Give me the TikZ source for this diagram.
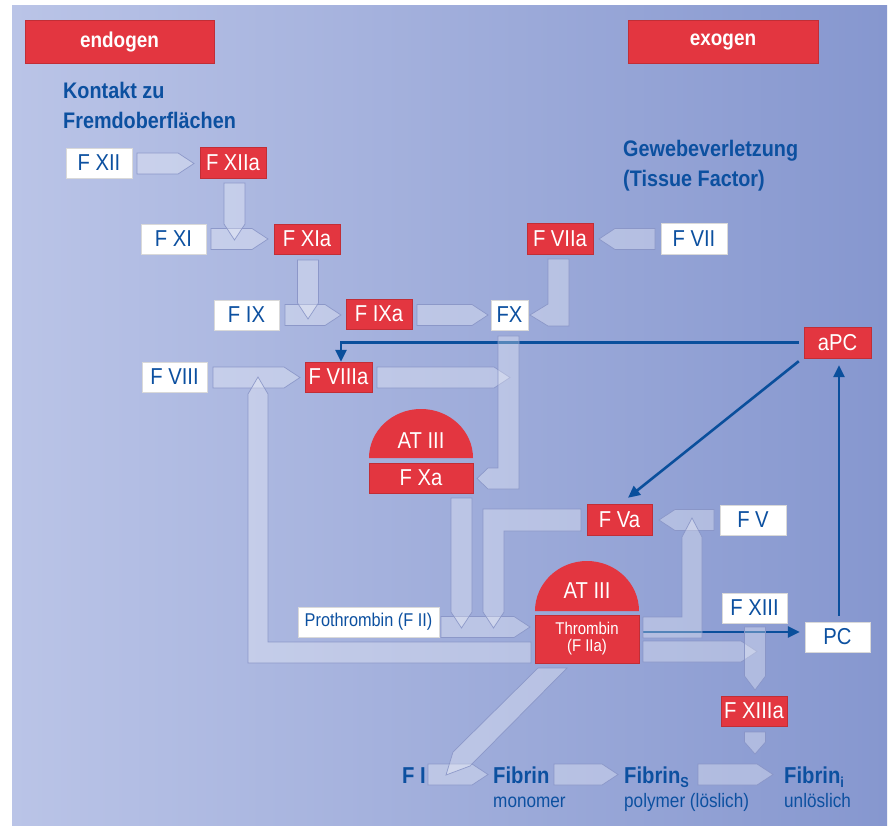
\documentclass[tikz,border=0pt]{standalone}
\usepackage{fontspec}
\setmainfont{Liberation Sans}[FakeStretch=0.88]
\usetikzlibrary{arrows.meta}
\definecolor{rd}{RGB}{227,54,64}
\definecolor{tb}{RGB}{12,80,160}
\definecolor{ln}{RGB}{10,79,156}
\definecolor{bgL}{RGB}{186,196,231}
\definecolor{bgR}{RGB}{134,151,207}
\definecolor{edge}{RGB}{136,148,198}
\newcommand\setfs[1]{\fontsize{#1}{#1}\selectfont}
\newcommand\harr[3]{\path[fat] (#1,{#3-10.5}) -- ({#2-16},{#3-10.5}) -- (#2,#3) -- ({#2-16},{#3+10.5}) -- (#1,{#3+10.5}) -- cycle;}
\newcommand\larr[3]{\path[fat] (#1,{#3-10.5}) -- ({#2+16},{#3-10.5}) -- (#2,#3) -- ({#2+16},{#3+10.5}) -- (#1,{#3+10.5}) -- cycle;}
\newcommand\darr[4]{\path[fat] ({#1-10.5},#2) -- ({#1+10.5},#2) -- ({#1+10.5},{#3-#4}) -- (#1,#3) -- ({#1-10.5},{#3-#4}) -- cycle;}
\tikzset{
  fat/.style={fill=white, fill opacity=0.3, draw=edge, draw opacity=0.9, line width=0.7pt},
  wbox/.style={fill=white, draw=black!15, line width=0.4pt, text=tb, inner sep=0pt, font=\setfs{23}},
  rbox/.style={fill=rd, draw=rd!85!black, line width=0.4pt, text=white, inner sep=0pt, font=\setfs{23}},
  bl/.style={draw=ln, line width=2.6pt, -{Triangle[length=12pt,width=11pt]}},
  head/.style={text=tb, font=\bfseries\setfs{22.5}, inner sep=0pt, anchor=base west},
  fib/.style={text=tb, font=\bfseries\setfs{23}, inner sep=0pt, anchor=base west},
  sub/.style={text=tb, font=\setfs{19.5}, inner sep=0pt, anchor=base west},
}
\begin{document}
\begin{tikzpicture}[x=1pt,y=-1pt]
\useasboundingbox (0,0) rectangle (889,826);
\fill[white] (0,0) rectangle (889,826);
\shade[left color=bgL, right color=bgR] (12,6) rectangle (887,826);

% nodes
\node[rbox, minimum width=189pt, minimum height=43pt, font=\bfseries\setfs{21.5}] (endo) at (119.5,41.5) {endogen};
\node[rbox, minimum width=190pt, minimum height=43pt, font=\bfseries\setfs{21.5}] (exo) at (723,41.5) {exogen};
\node[head] (k1) at (63,99) {Kontakt zu};
\node[head] (k2) at (63,129) {Fremdoberflächen};
\node[head] (g1) at (623,157) {Gewebeverletzung};
\node[head] (g2) at (623,187) {(Tissue Factor)};

\node[wbox, minimum width=66pt, minimum height=30pt] (FXII) at (99,163) {F XII};
\node[rbox, minimum width=66pt, minimum height=31pt] (FXIIa) at (233,162.5) {F XIIa};
\node[wbox, minimum width=65pt, minimum height=30pt] (FXI) at (173.5,239) {F XI};
\node[rbox, minimum width=66pt, minimum height=30pt] (FXIa) at (307,239) {F XIa};
\node[rbox, minimum width=66pt, minimum height=31pt] (FVIIa) at (560,238.5) {F VIIa};
\node[wbox, minimum width=66pt, minimum height=31pt] (FVII) at (694,238.5) {F VII};
\node[wbox, minimum width=65pt, minimum height=30pt] (FIX) at (246.5,315) {F IX};
\node[rbox, minimum width=66pt, minimum height=30pt] (FIXa) at (379,314) {F IXa};
\node[wbox, minimum width=37pt, minimum height=30pt] (FX) at (509.5,315) {FX};
\node[rbox, minimum width=67pt, minimum height=31pt] (aPC) at (837.5,342.5) {aPC};
\node[wbox, minimum width=65pt, minimum height=30pt] (FVIII) at (174.5,377) {F VIII};
\node[rbox, minimum width=67pt, minimum height=30pt] (FVIIIa) at (338.5,377) {F VIIIa};
\node[rbox, minimum width=104pt, minimum height=30pt] (FXa) at (421,478) {F Xa};
\node[rbox, minimum width=65pt, minimum height=31pt] (FVa) at (619.5,519.5) {F Va};
\node[wbox, minimum width=66pt, minimum height=30pt] (FV) at (753,520) {F V};
\node[rbox, minimum width=104pt, minimum height=48pt, align=center, font=\fontsize{17}{17}\selectfont] (Thrombin) at (587,639) {Thrombin\\(F IIa)};
\node[wbox, minimum width=141pt, minimum height=30pt, font=\setfs{18.5}] (FII) at (368.5,622) {Prothrombin (F II)};
\node[wbox, minimum width=65pt, minimum height=30pt] (FXIII) at (754.5,608) {F XIII};
\node[wbox, minimum width=65pt, minimum height=30pt] (PC) at (837.5,637) {PC};
\node[rbox, minimum width=66pt, minimum height=30pt] (FXIIIa) at (754,711) {F XIIIa};

% blue connectors (below the fat arrows)
\draw[bl, shorten <=5pt] (aPC.west) -| ([xshift=2.5pt]FVIIIa.north);
\draw[bl] ([xshift=-5pt,yshift=-3pt]aPC.south west) -- ([xshift=8.5pt,yshift=6pt]FVa.north);
\draw[bl] ([xshift=1.5pt,yshift=6pt]PC.north) -- ([xshift=1.5pt,yshift=-7pt]aPC.south);
\draw[bl] ([xshift=4pt,yshift=7pt]Thrombin.east) -- ([xshift=-5pt,yshift=5pt]PC.west);

% fat arrows
\harr{137}{194}{163.5}
\harr{211}{268}{239}
\harr{285}{341}{315}
\harr{417}{488}{315}
\larr{655}{599}{239}
\harr{213}{300}{377.5}
\harr{377}{510}{377.5}
\harr{441}{530}{627}
\larr{714}{659}{520}
\harr{643}{757}{651.5}
\harr{428}{488}{774.5}
\harr{554}{618}{774.5}
\harr{698}{773}{774.5}
\darr{234.5}{183}{240}{16}
\darr{308}{260}{319}{16}
\darr{461.5}{498}{628}{16}
\darr{755}{627}{690}{14}
\darr{755}{732}{754}{12}
\path[fat] (548,259) -- (569,259) -- (569,326) -- (548,326) -- (530,315) -- (548,304) -- cycle;
\path[fat] (258,377) -- (268,394) -- (268,642) -- (531,642) -- (531,663) -- (248,663) -- (248,394) -- cycle;
\path[fat] (498,336) -- (519,336) -- (519,489) -- (488,489) -- (477,478.5) -- (488,468) -- (498,468) -- cycle;
\path[fat] (581,509) -- (581,531) -- (504,531) -- (504,612) -- (493.5,628) -- (483,612) -- (483,509) -- cycle;
\path[fat] (643,617) -- (682,617) -- (682,537) -- (692,518) -- (702,537) -- (702,638) -- (643,638) -- cycle;
\path[fat] (538,668) -- (567,668) -- (470,766) -- (446,775) -- (453,752) -- cycle;

% AT III caps
\fill[rd] (369,458) arc[start angle=180, end angle=0, x radius=52pt, y radius=49pt] -- cycle;
\node[text=white, font=\setfs{23}, inner sep=0pt] (AT1) at (421,441) {AT III};
\fill[rd] (535,611) arc[start angle=180, end angle=0, x radius=52pt, y radius=50pt] -- cycle;
\node[text=white, font=\setfs{23}, inner sep=0pt] (AT2) at (587,591) {AT III};

% fibrin row
\node[fib] (FI) at (402,783) {F I};
\node[fib] (Fib) at (493,783) {Fibrin};
\node[fib] (FibS) at (624,783) {Fibrin\raisebox{-4pt}{\setfs{14.5}S}};
\node[fib] (Fibi) at (784,783) {Fibrin\raisebox{-4pt}{\setfs{14.5}i}};
\node[sub] (mono) at (493,807) {monomer};
\node[sub] (poly) at (624,807) {polymer (löslich)};
\node[sub] (unl) at (784,807) {unlöslich};
\end{tikzpicture}
\end{document}
